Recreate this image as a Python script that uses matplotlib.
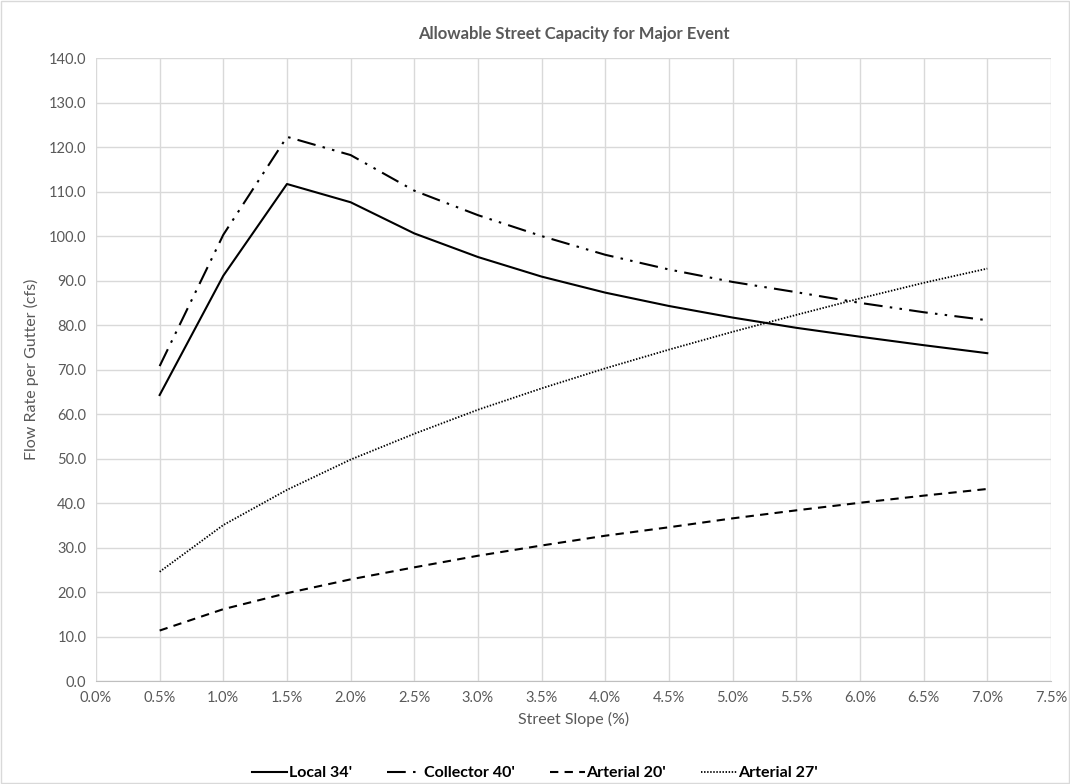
import matplotlib.pyplot as plt
from matplotlib.patches import Rectangle
from matplotlib.ticker import FuncFormatter, MultipleLocator

plt.rcParams['font.family'] = ['Lato', 'DejaVu Sans']

# street slope (%)
slope = [0.5, 1.0, 1.5, 2.0, 2.5, 3.0, 3.5, 4.0, 4.5, 5.0, 5.5, 6.0, 6.5, 7.0]

# flow rate per gutter (cfs)
local_34 = [64.3, 91.1, 111.7, 107.6, 100.6, 95.3, 90.9, 87.3, 84.3, 81.7, 79.4, 77.4, 75.5, 73.7]
collector_40 = [70.8, 100.3, 122.3, 118.2, 110.2, 104.7, 100.0, 95.8, 92.5, 89.7, 87.4, 85.0, 82.9, 81.1]
arterial_20 = [11.4, 16.2, 19.8, 22.9, 25.6, 28.2, 30.5, 32.7, 34.6, 36.6, 38.4, 40.1, 41.7, 43.2]
arterial_27 = [24.6, 35.1, 43.0, 49.8, 55.6, 61.0, 65.8, 70.3, 74.5, 78.5, 82.3, 86.0, 89.5, 92.7]

grey = '#595959'

fig = plt.figure(figsize=(10.7, 7.84), dpi=100)
fig.patches.append(Rectangle((0.001, 0.001), 0.998, 0.998, transform=fig.transFigure,
                             fill=False, edgecolor='#d9d9d9', lw=1))
ax = fig.add_axes([0.0897, 0.131, 0.8925, 0.795])

ax.plot(slope, local_34, color='black', lw=1.5, label="Local 34'")
ax.plot(slope, collector_40, color='black', lw=1.5, dashes=(9, 3.5, 1.2, 3.5, 1.2, 3.5),
        label="Collector 40'")
ax.plot(slope, arterial_20, color='black', lw=1.5, dashes=(4, 3), label="Arterial 20'")
ax.plot(slope, arterial_27, color='black', lw=1.3, dashes=(0.8, 0.9), label="Arterial 27'")

ax.set_xlim(0, 7.5)
ax.set_ylim(0, 140)
ax.xaxis.set_major_locator(MultipleLocator(0.5))
ax.yaxis.set_major_locator(MultipleLocator(10))
ax.xaxis.set_major_formatter(FuncFormatter(lambda v, p: '{:.1f}%'.format(v)))
ax.yaxis.set_major_formatter(FuncFormatter(lambda v, p: '{:.1f}'.format(v)))
ax.grid(True, color='#d9d9d9', lw=1)
ax.set_axisbelow(True)
for s in ['top', 'right', 'left']:
    ax.spines[s].set_visible(False)
ax.spines['bottom'].set_color('#bfbfbf')
ax.tick_params(length=0, colors=grey, labelsize=10.5, pad=7)

ax.set_xlabel('Street Slope (%)', color=grey, fontsize=11.5, labelpad=5)
ax.set_ylabel('Flow Rate per Gutter (cfs)', color=grey, fontsize=11.5, labelpad=7)
ax.set_title('Allowable Street Capacity for Major Event', color=grey, fontsize=12,
             fontweight='bold', pad=14)

fig.legend(loc='center', bbox_to_anchor=(0.5, 0.014), ncol=4, frameon=False,
           handlelength=2.2, handletextpad=0.1, columnspacing=2.2,
           prop={'weight': 'bold', 'size': 11.5}, borderaxespad=0)

fig.savefig('out.png', dpi=100)
